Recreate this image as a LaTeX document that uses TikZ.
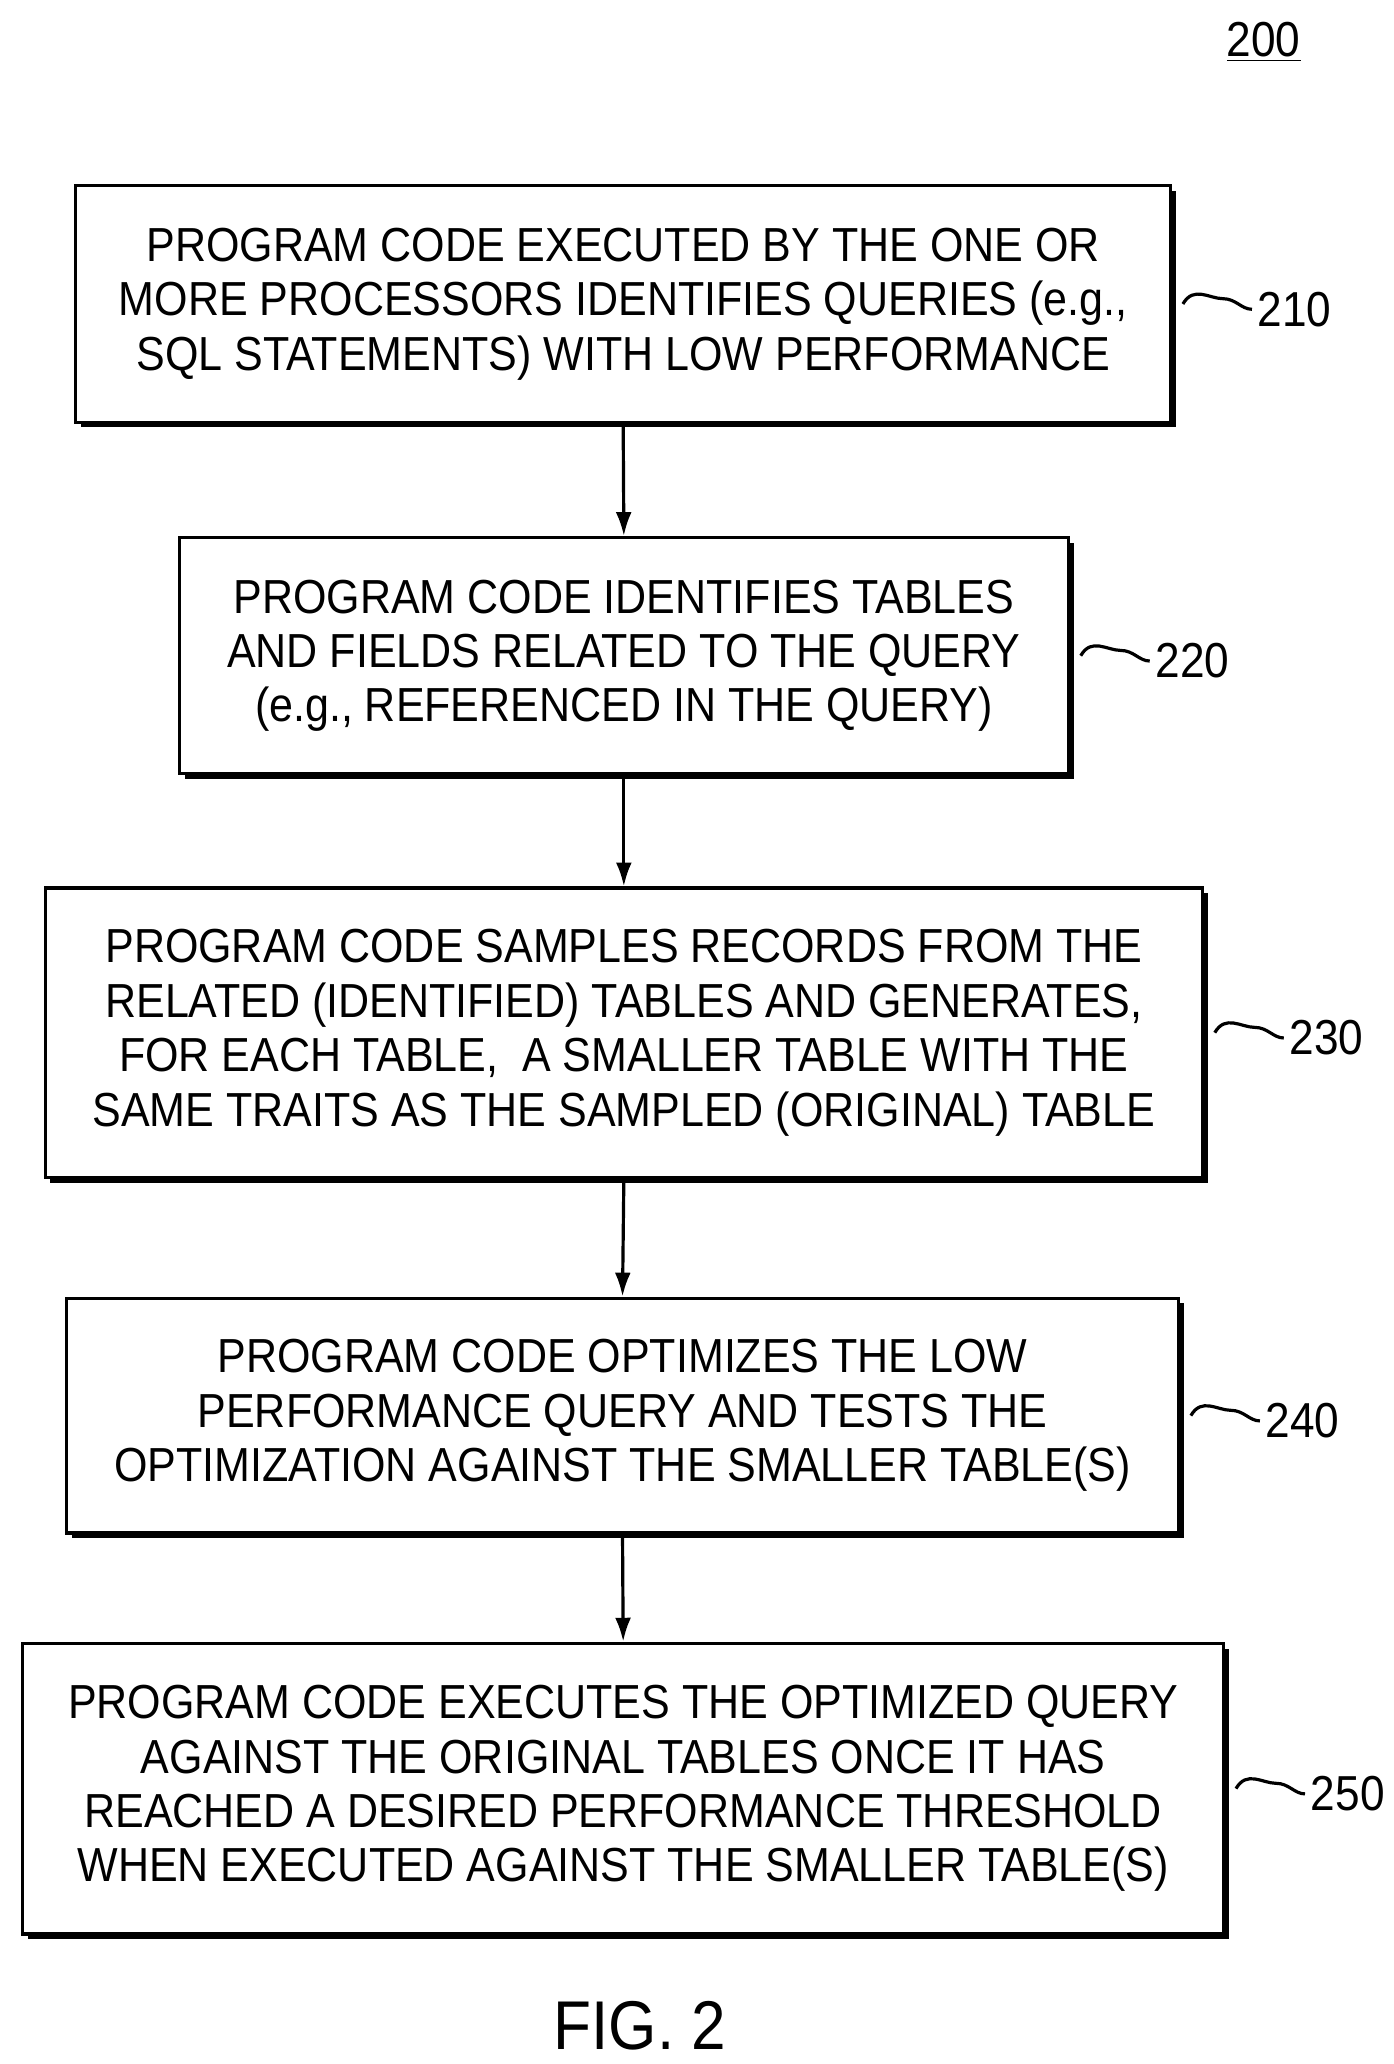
\documentclass[tikz,border=0pt]{standalone}
\usepackage{fontspec}
\setmainfont{Liberation Sans}[FakeStretch=0.9]
\usetikzlibrary{arrows.meta}
\begin{document}
\begin{tikzpicture}[x=0.5pt,y=-0.5pt,
  box/.style={draw,line width=1.2pt,fill=white,align=center,inner sep=0pt,
    font=\fontsize{18}{20.5}\selectfont},
  lbl/.style={font=\fontsize{18.5}{20}\selectfont,anchor=west,inner sep=0pt},
  arr/.style={-{Latex[length=9pt,width=6pt]},line width=1.2pt}]
\useasboundingbox (0,0) rectangle (1050,1555);
\newcommand{\flowbox}[7]{% name, x1,y1,x2,y2, text, label
  \fill (#2+4,#3+4) rectangle (#4+4,#5+4);
  \node[box,minimum width=(#4-#2)*0.5pt,minimum height=(#5-#3)*0.5pt] (#1) at ({(#2+#4)/2},{(#3+#5)/2}) {#6};
  \draw[line width=1.2pt] (#1.east) ++(8,0) .. controls +(8,-14) and +(-10,0) .. ++(30,-4) .. controls +(10,0) and +(-8,0) .. ++(22,8) coordinate (#1l);
  \node[lbl] at ([xshift=2pt]#1l) {#7};
}
\flowbox{b1}{57}{140}{882}{318}{PROGRAM CODE EXECUTED BY THE ONE OR\\MORE PROCESSORS IDENTIFIES QUERIES (e.g.,\\SQL STATEMENTS) WITH LOW PERFORMANCE}{210}
\flowbox{b2}{135}{405}{805}{583}{PROGRAM CODE IDENTIFIES TABLES\\AND FIELDS RELATED TO THE QUERY\\(e.g., REFERENCED IN THE QUERY)}{220}
\flowbox{b3}{34}{669}{906}{887}{PROGRAM CODE SAMPLES RECORDS FROM THE\\RELATED (IDENTIFIED) TABLES AND GENERATES,\\FOR EACH TABLE,\ \ A SMALLER TABLE WITH THE\\SAME TRAITS AS THE SAMPLED (ORIGINAL) TABLE}{230}
\flowbox{b4}{50}{978}{888}{1155}{PROGRAM CODE OPTIMIZES THE LOW\\PERFORMANCE QUERY AND TESTS THE\\OPTIMIZATION AGAINST THE SMALLER TABLE(S)}{240}
\flowbox{b5}{17}{1238}{922}{1457}{PROGRAM CODE EXECUTES THE OPTIMIZED QUERY\\AGAINST THE ORIGINAL TABLES ONCE IT HAS\\REACHED A DESIRED PERFORMANCE THRESHOLD\\WHEN EXECUTED AGAINST THE SMALLER TABLE(S)}{250}
\draw[arr] (b1.south) -- (b2.north);
\draw[arr] (b2.south) -- (b3.north);
\draw[arr] (b3.south) -- (b4.north);
\draw[arr] (b4.south) -- (b5.north);
\node[font=\fontsize{18.5}{20}\selectfont,inner sep=0pt] (n200) at (952,32) {\underline{200}};
\node[font=\fontsize{26}{30}\selectfont,inner sep=0pt] (fig) at (482,1526) {FIG. 2};
\end{tikzpicture}
\end{document}
